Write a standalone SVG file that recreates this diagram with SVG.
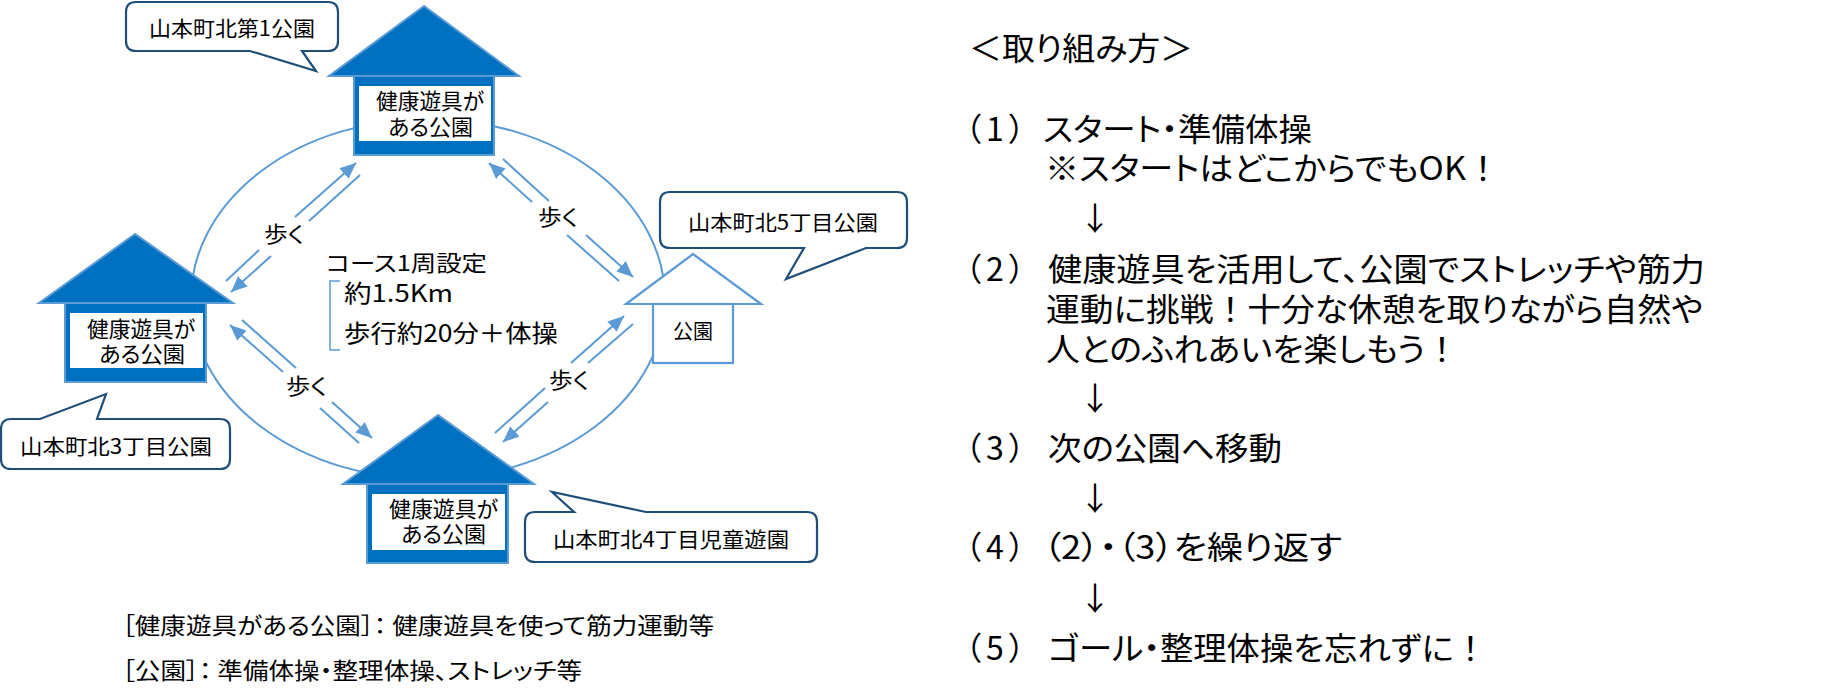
<svg xmlns="http://www.w3.org/2000/svg" width="1825" height="698" viewBox="0 0 1825 698">
<style>
text{font-family:"Noto Sans CJK JP","Noto Sans",sans-serif;fill:#000;font-feature-settings:"palt";}
.r{font-size:32px}.n{font-size:22px}.c{font-size:21px}.l{font-size:23px}.w{font-size:22px}.f{font-size:20px}.g{font-size:24px}
.fw{font-feature-settings:normal}
.solid{fill:#0070C0;stroke:#5B9BD5;stroke-width:2}
.open{fill:#fff;stroke:#5B9BD5;stroke-width:2.2}
.call{fill:#fff;stroke:#1F4E79;stroke-width:2.2;stroke-linejoin:miter}
.line{fill:none;stroke:#5B9BD5;stroke-width:2}
</style>
<defs>
<marker id="tip" markerUnits="userSpaceOnUse" markerWidth="18" markerHeight="16" refX="16" refY="7" orient="auto"><path d="M0 0L16 7L0 14Z" fill="#5B9BD5"/></marker>
</defs>
<g id="connectors">
<ellipse class="line" cx="428" cy="299" rx="237" ry="180"/>
<path class="line" d="M226 281L259 250M295 217L356 163" marker-end="url(#tip)"/>
<path class="line" d="M360 175L309 221M271 256L231 292" marker-end="url(#tip)"/>
<path class="line" d="M532 202L489 163" marker-end="url(#tip)"/>
<path class="line" d="M503 159L549 201M567 235L619 281"/>
<path class="line" d="M586 235L633 277" marker-end="url(#tip)"/>
<path class="line" d="M571 363L624 316" marker-end="url(#tip)"/>
<path class="line" d="M633 324L588 363M545 388L495 433"/>
<path class="line" d="M548 402L503 442" marker-end="url(#tip)"/>
<path class="line" d="M283 372L230 325" marker-end="url(#tip)"/>
<path class="line" d="M242 320L296 368M332 402L372 438" marker-end="url(#tip)"/>
<path class="line" d="M320 408L359 443"/>
<text class="w" x="264" y="242" textLength="40" lengthAdjust="spacingAndGlyphs">歩く</text>
<text class="w" x="538" y="225" textLength="40" lengthAdjust="spacingAndGlyphs">歩く</text>
<text class="w" x="549" y="388" textLength="40" lengthAdjust="spacingAndGlyphs">歩く</text>
<text class="w" x="286" y="394" textLength="41" lengthAdjust="spacingAndGlyphs">歩く</text>
</g>
<g id="park1">
<path class="solid" d="M424 6L329 76H519Z"/>
<rect class="solid" x="354" y="76" width="140" height="79"/>
<rect x="359" y="86" width="132" height="55" fill="#fff"/>
<text class="n" x="376" y="109" textLength="108" lengthAdjust="spacingAndGlyphs">健康遊具が</text>
<text class="n" x="388" y="135" textLength="85" lengthAdjust="spacingAndGlyphs">ある公園</text>
</g>
<g id="park3">
<path class="solid" d="M135 234L39 303H233Z"/>
<rect class="solid" x="65" y="303" width="141" height="79"/>
<rect x="70" y="313" width="133" height="55" fill="#fff"/>
<text class="n" x="87" y="337" textLength="108" lengthAdjust="spacingAndGlyphs">健康遊具が</text>
<text class="n" x="99" y="362" textLength="86" lengthAdjust="spacingAndGlyphs">ある公園</text>
</g>
<g id="park4">
<path class="solid" d="M438 415L343 484H534Z"/>
<rect class="solid" x="367" y="484" width="141" height="79"/>
<rect x="372" y="494" width="133" height="56" fill="#fff"/>
<text class="n" x="389" y="517" textLength="109" lengthAdjust="spacingAndGlyphs">健康遊具が</text>
<text class="n" x="401" y="542" textLength="85" lengthAdjust="spacingAndGlyphs">ある公園</text>
</g>
<g id="park5">
<path class="open" d="M693 254L626 304H761Z"/>
<rect class="open" x="653" y="304" width="80" height="59"/>
<text class="f" x="673" y="339" textLength="40" lengthAdjust="spacingAndGlyphs">公園</text>
</g>
<g id="callout1">
<path class="call" d="M136 2H328Q338 2 338 12V41Q338 51 328 51H302L316 71L250 51H136Q126 51 126 41V12Q126 2 136 2Z"/>
<text class="c" x="149" y="36" textLength="166" lengthAdjust="spacingAndGlyphs">山本町北第1公園</text>
</g>
<g id="callout5">
<path class="call" d="M670 192H897Q907 192 907 202V238Q907 248 897 248H866L786 279L804 248H670Q660 248 660 238V202Q660 192 670 192Z"/>
<text class="c" x="688" y="230" textLength="190" lengthAdjust="spacingAndGlyphs">山本町北5丁目公園</text>
</g>
<g id="callout3">
<path class="call" d="M11 419H40L106 394L97 419H220Q230 419 230 429V459Q230 469 220 469H11Q1 469 1 459V429Q1 419 11 419Z"/>
<text class="c" x="20" y="454" textLength="192" lengthAdjust="spacingAndGlyphs">山本町北3丁目公園</text>
</g>
<g id="callout4">
<path class="call" d="M535 512H574L552 492L646 512H807Q817 512 817 522V552Q817 562 807 562H535Q525 562 525 552V522Q525 512 535 512Z"/>
<text class="c" x="553" y="547" textLength="236" lengthAdjust="spacingAndGlyphs">山本町北4丁目児童遊園</text>
</g>
<g id="course">
<path d="M340 281H330V350H340" fill="none" stroke="#5B9BD5" stroke-width="1.5"/>
<text class="n" x="326" y="271" textLength="161" lengthAdjust="spacingAndGlyphs">コース1周設定</text>
<text class="g" x="344" y="302" textLength="109" lengthAdjust="spacingAndGlyphs">約1.5Km</text>
<text class="g" x="344" y="342" textLength="214" lengthAdjust="spacingAndGlyphs">歩行約20分＋体操</text>
</g>
<g id="legend">
<text class="l" x="122" y="634" textLength="592" lengthAdjust="spacingAndGlyphs">［健康遊具がある公園］： 健康遊具を使って筋力運動等</text>
<text class="l" x="122" y="679" textLength="460" lengthAdjust="spacingAndGlyphs">［公園］： 準備体操・整理体操、ストレッチ等</text>
</g>
<g id="steps">
<text class="r" x="969" y="60" textLength="224" lengthAdjust="spacingAndGlyphs">＜取り組み方＞</text>
<text class="r" x="965" y="141" textLength="60">（1）</text>
<text class="r" x="1043" y="141" textLength="269" lengthAdjust="spacingAndGlyphs">スタート・準備体操</text>
<text class="r" x="1045" y="180" textLength="455" lengthAdjust="spacingAndGlyphs">※スタートはどこからでもOK<tspan class="fw">！</tspan></text>
<text class="r" x="1079" y="230">↓</text>
<text class="r" x="965" y="281" textLength="60">（2）</text>
<text class="r" x="1048" y="281" textLength="657" lengthAdjust="spacingAndGlyphs">健康遊具を活用して、公園でストレッチや筋力</text>
<text class="r" x="1046" y="321" textLength="657" lengthAdjust="spacingAndGlyphs">運動に挑戦<tspan class="fw">！</tspan>十分な休憩を取りながら自然や</text>
<text class="r" x="1046" y="361" textLength="413" lengthAdjust="spacingAndGlyphs">人とのふれあいを楽しもう<tspan class="fw">！</tspan></text>
<text class="r" x="1079" y="410">↓</text>
<text class="r" x="965" y="460" textLength="60">（3）</text>
<text class="r" x="1048" y="460" textLength="234" lengthAdjust="spacingAndGlyphs">次の公園へ移動</text>
<text class="r" x="1079" y="510">↓</text>
<text class="r" x="965" y="559" textLength="60">（4）</text>
<text class="r" x="1043" y="559" textLength="299" lengthAdjust="spacingAndGlyphs">（2）・（3）を繰り返す</text>
<text class="r" x="1079" y="610">↓</text>
<text class="r" x="965" y="660" textLength="60">（5）</text>
<text class="r" x="1048" y="660" textLength="439" lengthAdjust="spacingAndGlyphs">ゴール・整理体操を忘れずに<tspan class="fw">！</tspan></text>
</g>
</svg>
